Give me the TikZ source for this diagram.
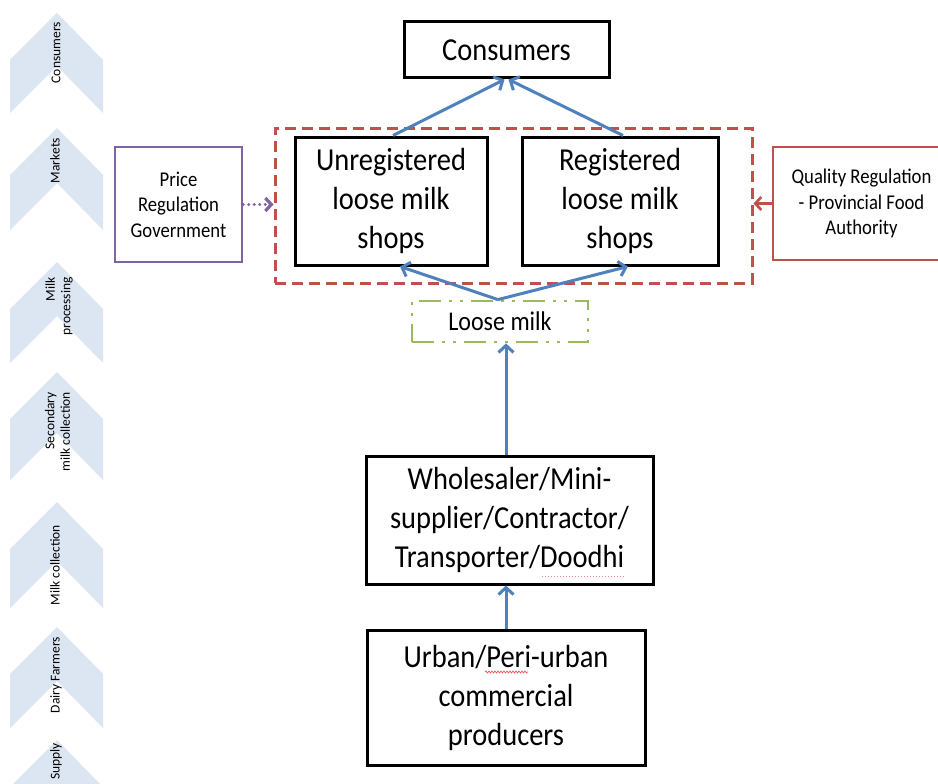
\documentclass[tikz,border=0pt]{standalone}
\usepackage{fontspec}
\setmainfont{Carlito}[FakeStretch=0.89]
\newfontfamily\sidefont{Carlito}
\usepackage{xcolor}
\usepackage{tikz}
\usetikzlibrary{arrows.meta, positioning, calc, decorations.pathmorphing}
\definecolor{DCBlue}{RGB}{79, 129, 189}
\definecolor{DCRed}{RGB}{192, 80, 77}
\definecolor{DCPurple}{RGB}{128, 100, 162}
\definecolor{DCGreen}{RGB}{155, 187, 89}
\definecolor{DCChevron}{RGB}{220, 230, 242}
\definecolor{DCSpell}{RGB}{230, 90, 90}
\tikzset{
  chainbox/.style={draw=black, line width=3pt, align=center, inner sep=0pt, font=\fontsize{32}{39}\selectfont},
  rulebox/.style={line width=2.6pt, align=center, inner sep=0pt, font=\fontsize{21}{25.5}\selectfont},
  stagelabel/.style={rotate=90, anchor=east, align=right, inner sep=0pt, font=\sidefont\fontsize{13.5}{15.5}\selectfont},
  flow/.style={DCBlue, line width=3pt, -{Straight Barb[length=7pt,width=15pt]}},
}
\begin{document}
\begin{tikzpicture}[x=1pt,y=-1pt]
  \path[use as bounding box] (0,0) rectangle (938,784);
  \clip (0,0) rectangle (938,784);
  \fill[white] (0,0) rectangle (938,784);
  \foreach \a/\h in {13/100,128/102,262/101,372/108,502/106,627/101,740/100}
    \fill[DCChevron] (10,\a+47) -- (57,\a) -- (103,\a+47) -- (103,\a+\h) -- (57,\a+\h-47) -- (10,\a+\h) -- cycle;
  \node[stagelabel] (lblConsumers) at (56,22) {Consumers};
  \node[stagelabel] (lblMarkets) at (55,138) {Markets};
  \node[stagelabel] (lblProcessing) at (59,277) {Milk\\processing};
  \node[stagelabel] (lblSecondary) at (57.5,392) {Secondary\\milk collection};
  \node[stagelabel] (lblCollection) at (55,525) {Milk collection};
  \node[stagelabel] (lblFarmers) at (56,637) {Dairy Farmers};
  \node[stagelabel] (lblSupply) at (56,743) {Supply};

  \node[chainbox, minimum width=205pt, minimum height=56pt] (consumers) at (506.5,50) {Consumers};
  \node[draw=DCRed, line width=3pt, dash pattern=on 11pt off 6pt, minimum width=477pt, minimum height=155pt, inner sep=0pt] (market) at (513.5,205.5) {};
  \node[chainbox, minimum width=192pt, minimum height=128pt] (unreg) at (391,201) {Unregistered\\loose milk\\shops};
  \node[chainbox, minimum width=196pt, minimum height=128pt] (reg) at (620,201) {Registered\\loose milk\\shops};
  \node[rulebox, draw=DCPurple, minimum width=127pt, minimum height=115pt] (price) at (178.5,204.5) {Price\\Regulation\\Government};
  \node[rulebox, draw=DCRed, minimum width=177pt, minimum height=113pt] (quality) at (861.5,203.5) {Quality Regulation\\- Provincial Food\\Authority};
  \node[draw=DCGreen, line width=2.8pt, dash pattern=on 22pt off 8pt on 3pt off 8pt on 3pt off 8pt, minimum width=176pt, minimum height=41pt, inner sep=0pt, font=\fontsize{27}{30}\selectfont] (loose) at (500,321.5) {Loose milk};
  \node[chainbox, minimum width=287pt, minimum height=128pt] (trader) at (509.5,520) {Wholesaler/Mini-\\supplier/Contractor/\\Transporter/Doodhi};
  \node[chainbox, minimum width=278pt, minimum height=135pt] (producers) at (506,697.5) {Urban/Peri-urban\\commercial\\producers};
  \draw[DCSpell!70, line width=1pt, dotted] (542,576) -- (625,576);
  \draw[DCSpell, line width=0.7pt, decorate, decoration={snake, amplitude=1pt, segment length=3pt}] (485,672) -- (528,672);

  \draw[flow] ([xshift=2pt]unreg.north) -- ([xshift=-2pt]consumers.south);
  \draw[flow] ([xshift=3pt]reg.north) -- ([xshift=2pt]consumers.south);
  \draw[flow] ([xshift=-2pt]loose.north) -- ([xshift=9pt]unreg.south);
  \draw[flow] ([xshift=-2pt]loose.north) -- ([xshift=8pt]reg.south);
  \draw[flow] (producers.north) -- (producers.north |- trader.south);
  \draw[flow] (producers.north |- trader.north) -- (producers.north |- loose.south);
  \draw[DCPurple, line width=3.2pt, line cap=round, dash pattern=on 0pt off 5.5pt, -{Straight Barb[length=6pt,width=13pt,line cap=butt]}] (price.east) -- (price.east -| market.west);
  \draw[DCRed, line width=2.6pt, -{Straight Barb[length=6pt,width=13pt]}] (quality.west) -- (quality.west -| market.east);
\end{tikzpicture}
\end{document}
